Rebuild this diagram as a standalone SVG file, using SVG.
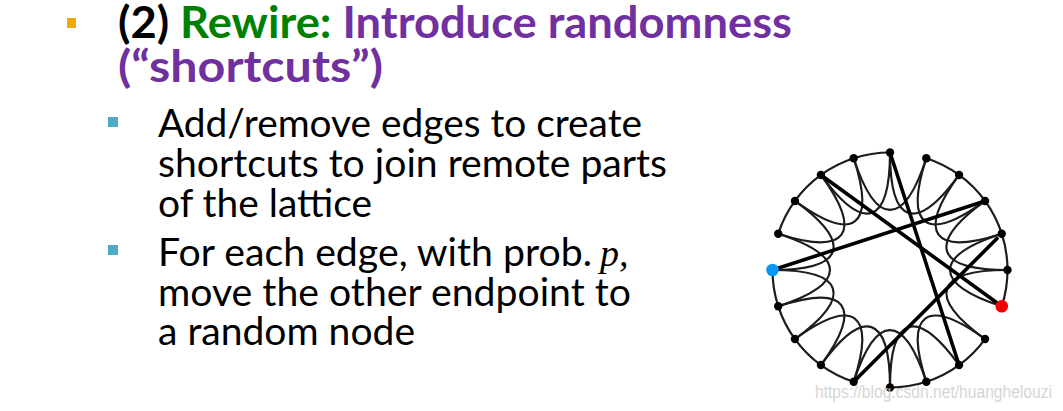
<svg xmlns="http://www.w3.org/2000/svg" width="1063" height="411" viewBox="0 0 1063 411">
<style>
.title{font-family:Lato,"Liberation Sans",sans-serif;font-size:43px;font-weight:bold}
.body{font-family:Lato,"Liberation Sans",sans-serif;font-size:39px;fill:#000}
.edge{fill:none;stroke:#1c1c1c;stroke-width:2.2}
.short{fill:none;stroke:#000;stroke-width:3.6;stroke-linecap:round}
.node{fill:#000}
.wm{font-family:"Liberation Sans",Arial,sans-serif;font-size:17.5px;fill:#c8c8c8;opacity:0.75}
</style>
<rect width="1063" height="411" fill="#fff"/>
<g id="text">
<rect x="67" y="18" width="9" height="10" fill="#f0aa00"/>
<text class="title" x="118" y="38" textLength="674" lengthAdjust="spacingAndGlyphs"><tspan fill="#000">(2) </tspan><tspan fill="#008000">Rewire:</tspan><tspan fill="#7030a0"> Introduce randomness</tspan></text>
<text class="title" x="118" y="82" fill="#7030a0" textLength="265" lengthAdjust="spacingAndGlyphs">(“shortcuts”)</text>
<rect x="108" y="117" width="10" height="10" fill="#4bacc6"/>
<text class="body" x="158" y="137" textLength="484" lengthAdjust="spacingAndGlyphs">Add/remove edges to create</text>
<text class="body" x="158" y="177" textLength="509" lengthAdjust="spacingAndGlyphs">shortcuts to join remote parts</text>
<text class="body" x="158" y="217" textLength="214" lengthAdjust="spacingAndGlyphs">of the lattice</text>
<rect x="108" y="245" width="10" height="10" fill="#4bacc6"/>
<text class="body" x="158" y="266" textLength="434" lengthAdjust="spacingAndGlyphs">For each edge, with prob.</text>
<text x="600" y="266" font-family="'Liberation Serif',serif" font-style="italic" font-size="38" fill="#000">p,</text>
<text class="body" x="158" y="306" textLength="473" lengthAdjust="spacingAndGlyphs">move the other endpoint to</text>
<text class="body" x="158" y="345" textLength="257" lengthAdjust="spacingAndGlyphs">a random node</text>
</g>
<g id="connectors">
<path class="edge" d="M853.69,158.25 A117.5,117.5 0 0 1 890,152.5"/>
<path class="edge" d="M926.31,158.25 A117.5,117.5 0 0 1 959.07,174.94"/>
<path class="edge" d="M959.07,174.94 A117.5,117.5 0 0 1 985.06,200.93"/>
<path class="edge" d="M985.06,200.93 A117.5,117.5 0 0 1 1001.75,233.69"/>
<path class="edge" d="M1001.75,233.69 A117.5,117.5 0 0 1 1007.5,270"/>
<path class="edge" d="M1007.5,270 A117.5,117.5 0 0 1 1001.75,306.31"/>
<path class="edge" d="M985.06,339.07 A117.5,117.5 0 0 1 959.07,365.06"/>
<path class="edge" d="M959.07,365.06 A117.5,117.5 0 0 1 926.31,381.75"/>
<path class="edge" d="M926.31,381.75 A117.5,117.5 0 0 1 890,387.5"/>
<path class="edge" d="M853.69,381.75 A117.5,117.5 0 0 1 820.93,365.06"/>
<path class="edge" d="M820.93,365.06 A117.5,117.5 0 0 1 794.94,339.07"/>
<path class="edge" d="M794.94,339.07 A117.5,117.5 0 0 1 778.25,306.31"/>
<path class="edge" d="M778.25,306.31 A117.5,117.5 0 0 1 772.5,270"/>
<path class="edge" d="M778.25,233.69 A117.5,117.5 0 0 1 794.94,200.93"/>
<path class="edge" d="M794.94,200.93 A117.5,117.5 0 0 1 820.93,174.94"/>
<path class="edge" d="M820.93,174.94 A117.5,117.5 0 0 1 853.69,158.25"/>
<path class="edge" d="M890,152.5 C890,225 916.45,233.59 959.07,174.94"/>
<path class="edge" d="M926.31,158.25 C903.91,227.2 926.41,243.55 985.06,200.93"/>
<path class="edge" d="M959.07,174.94 C916.45,233.59 932.8,256.09 1001.75,233.69"/>
<path class="edge" d="M985.06,200.93 C926.41,243.55 935,270 1007.5,270"/>
<path class="edge" d="M1001.75,233.69 C932.8,256.09 932.8,283.91 1001.75,306.31"/>
<path class="edge" d="M1007.5,270 C935,270 926.41,296.45 985.06,339.07"/>
<path class="edge" d="M985.06,339.07 C926.41,296.45 903.91,312.8 926.31,381.75"/>
<path class="edge" d="M959.07,365.06 C916.45,306.41 890,315 890,387.5"/>
<path class="edge" d="M926.31,381.75 C903.91,312.8 876.09,312.8 853.69,381.75"/>
<path class="edge" d="M890,387.5 C890,315 863.55,306.41 820.93,365.06"/>
<path class="edge" d="M853.69,381.75 C876.09,312.8 853.59,296.45 794.94,339.07"/>
<path class="edge" d="M820.93,365.06 C863.55,306.41 847.2,283.91 778.25,306.31"/>
<path class="edge" d="M794.94,339.07 C853.59,296.45 845,270 772.5,270"/>
<path class="edge" d="M778.25,306.31 C847.2,283.91 847.2,256.09 778.25,233.69"/>
<path class="edge" d="M772.5,270 C845,270 853.59,243.55 794.94,200.93"/>
<path class="edge" d="M778.25,233.69 C847.2,256.09 863.55,233.59 820.93,174.94"/>
<path class="edge" d="M794.94,200.93 C853.59,243.55 876.09,227.2 853.69,158.25"/>
<path class="edge" d="M820.93,174.94 C863.55,233.59 890,225 890,152.5"/>
<path class="edge" d="M853.69,158.25 C876.09,227.2 903.91,227.2 926.31,158.25"/>
<path class="short" d="M772.5,270 L985.06,200.93"/>
<path class="short" d="M820.93,174.94 L1001.75,306.31"/>
<path class="short" d="M890,152.5 L959.07,365.06"/>
<path class="short" d="M997,238.5 L853.69,381.75"/>
</g>
<g id="n0"><circle class="node" cx="890" cy="152.5" r="4.2"/></g>
<g id="n1"><circle class="node" cx="926.31" cy="158.25" r="4.2"/></g>
<g id="n2"><circle class="node" cx="959.07" cy="174.94" r="4.2"/></g>
<g id="n3"><circle class="node" cx="985.06" cy="200.93" r="4.2"/></g>
<g id="n4"><circle class="node" cx="1001.75" cy="233.69" r="4.2"/></g>
<g id="n5"><circle class="node" cx="1007.5" cy="270" r="4.2"/></g>
<g id="n6"><circle cx="1001.75" cy="306.31" r="6.3" fill="#f50000"/></g>
<g id="n7"><circle class="node" cx="985.06" cy="339.07" r="4.2"/></g>
<g id="n8"><circle class="node" cx="959.07" cy="365.06" r="4.2"/></g>
<g id="n9"><circle class="node" cx="926.31" cy="381.75" r="4.2"/></g>
<g id="n10"><circle class="node" cx="890" cy="387.5" r="4.2"/></g>
<g id="n11"><circle class="node" cx="853.69" cy="381.75" r="4.2"/></g>
<g id="n12"><circle class="node" cx="820.93" cy="365.06" r="4.2"/></g>
<g id="n13"><circle class="node" cx="794.94" cy="339.07" r="4.2"/></g>
<g id="n14"><circle class="node" cx="778.25" cy="306.31" r="4.2"/></g>
<g id="n15"><circle cx="772.5" cy="270" r="6.3" fill="#0a98f5"/></g>
<g id="n16"><circle class="node" cx="778.25" cy="233.69" r="4.2"/></g>
<g id="n17"><circle class="node" cx="794.94" cy="200.93" r="4.2"/></g>
<g id="n18"><circle class="node" cx="820.93" cy="174.94" r="4.2"/></g>
<g id="n19"><circle class="node" cx="853.69" cy="158.25" r="4.2"/></g>
<text class="wm" x="815" y="398" textLength="237" lengthAdjust="spacingAndGlyphs">https://blog.csdn.net/huanghelouzi</text>
</svg>
